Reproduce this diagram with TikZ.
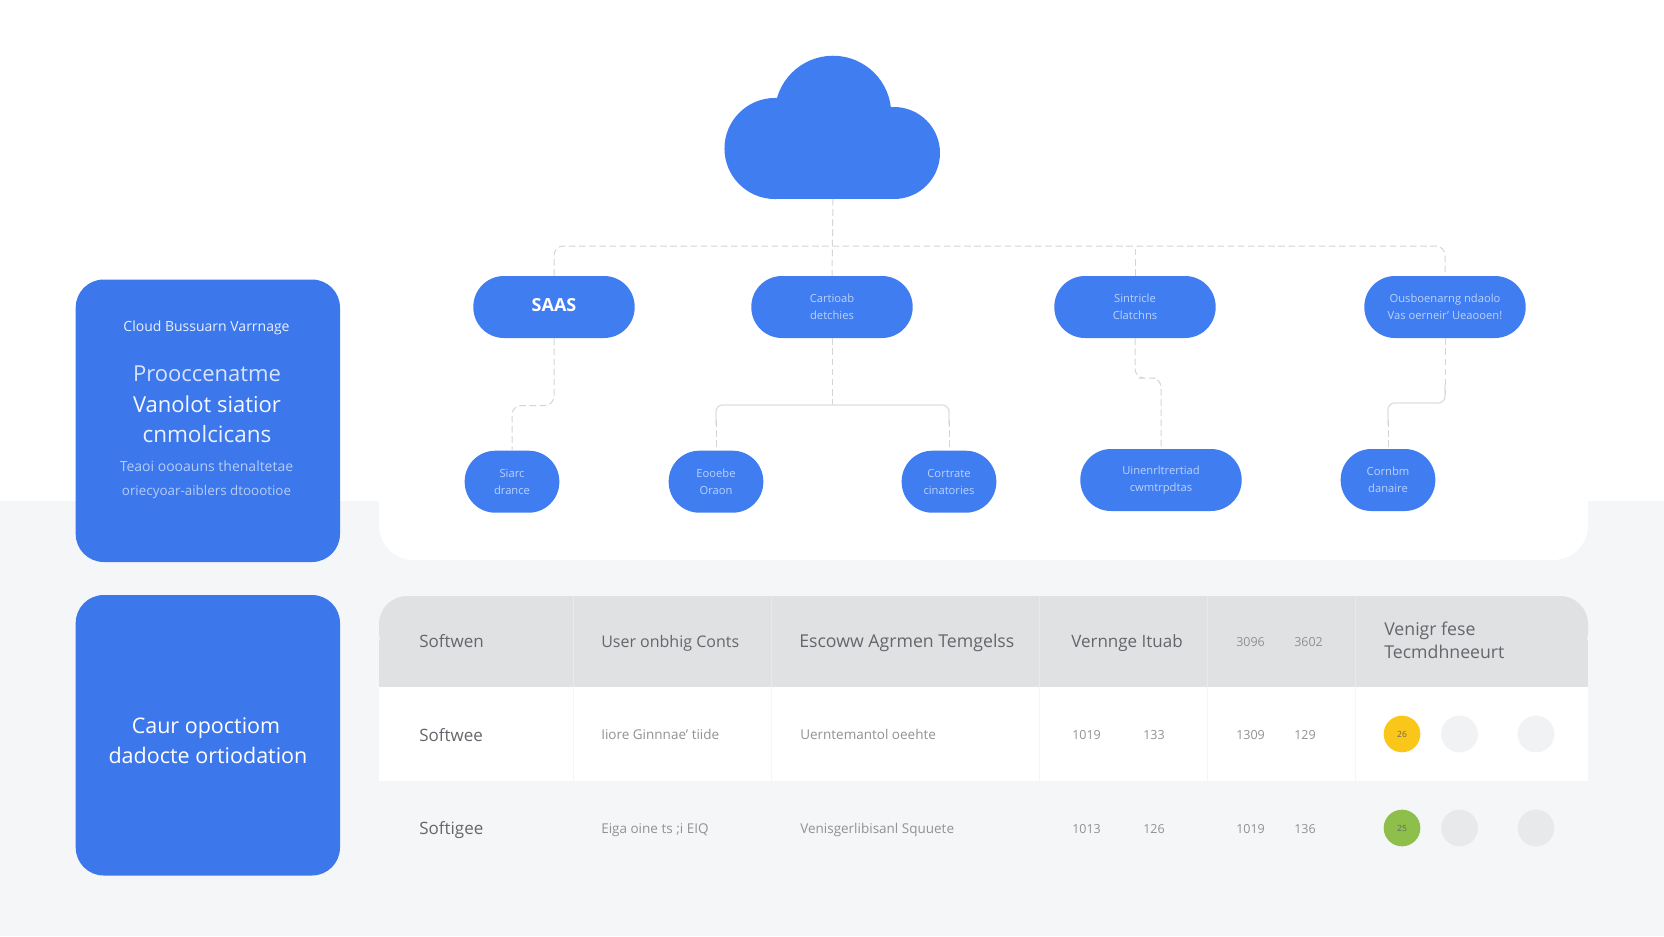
\documentclass[tikz,border=0pt]{standalone}
\usepackage{fontspec}
\setmainfont{Open Sans}
\definecolor{bluecard}{HTML}{3C78EC}
\definecolor{bluenode}{HTML}{3F7DF1}
\definecolor{pagebg}{HTML}{F5F6F8}
\definecolor{headbg}{HTML}{E0E1E3}
\definecolor{rowtwo}{HTML}{F5F6F7}
\definecolor{linkc}{HTML}{D3D5D7}
\definecolor{barc}{HTML}{DEDFE1}
\definecolor{inktxt}{HTML}{63676B}
\definecolor{softtxt}{HTML}{8F9296}
\definecolor{paletxt}{HTML}{BCD2F9}
\definecolor{dotyellow}{HTML}{FBC61A}
\definecolor{dotgreen}{HTML}{8EBF4B}
\definecolor{dotlight}{HTML}{F1F2F3}
\definecolor{dotdark}{HTML}{E8E9EA}
\newcommand{\pxfont}[2]{\fontsize{\dimexpr#1pt*3/4\relax}{\dimexpr#2pt*3/4\relax}\selectfont}
\tikzset{
  x=0.75pt,y=-0.75pt,
  card/.style={fill=bluecard,rounded corners=21pt},
  pill/.style={draw=none,fill=bluenode,rounded corners=23pt,minimum height=46.5pt,inner sep=0pt,text=paletxt,align=center,font=\pxfont{11.2}{17}},
  wide/.style={pill,minimum width=121pt},
  narrow/.style={pill,minimum width=71pt},
  dlink/.style={draw=linkc,line width=0.75pt,dash pattern=on 5pt off 2.6pt,rounded corners=7pt},
  slink/.style={draw=barc,line width=1pt,rounded corners=5pt},
  cardtxt/.style={inner sep=0pt,text=white,align=center},
  headtxt/.style={inner sep=0pt,anchor=base west,text=inktxt,font=\pxfont{17}{23},align=left},
  celltxt/.style={inner sep=0pt,anchor=base west,text=softtxt,font=\pxfont{13.5}{17}},
  numtxt/.style={celltxt,font=\pxfont{12.5}{17}},
  dot/.style={circle,minimum size=27.5pt,inner sep=0pt,text=inktxt,font=\pxfont{8.5}{9}},
}
\begin{document}
\begin{tikzpicture}
\useasboundingbox (0,0) rectangle (1664,936);
% background and panel
\fill[white] (0,0) rectangle (1664,501);
\fill[pagebg] (0,501) rectangle (1664,936);
\fill[white,rounded corners=26pt] (379,440) rectangle (1588,560);
% left cards
\fill[card] (75.7,279.5) rectangle (340,562);
\fill[card] (75.7,595) rectangle (340,875.5);
\node[cardtxt,text=white!88!bluecard,font=\pxfont{14}{18}] (c1a) at (206.5,327.5) {Cloud Bussuarn Varrnage};
\node[cardtxt,text=white!80!bluecard,font=\pxfont{22}{30}] (c1b) at (207,374) {Prooccenatme};
\node[cardtxt,text=white!95!bluecard,font=\pxfont{22}{30}] (c1c) at (207,404) {Vanolot siatior};
\node[cardtxt,text=white!90!bluecard,font=\pxfont{22.5}{30}] (c1d) at (207,434) {cnmolcicans};
\node[cardtxt,text=white!62!bluecard,font=\pxfont{14}{18}] (c1e) at (206.5,466) {Teaoi oooauns thenaltetae};
\node[cardtxt,text=white!62!bluecard,font=\pxfont{13.4}{18}] (c1f) at (206.5,492) {oriecyoar-aiblers dtoootioe};
\node[cardtxt,font=\pxfont{21.5}{30}] (c2a) at (206,728) {Caur opoctiom};
\node[cardtxt,font=\pxfont{21.5}{30}] (c2b) at (208,755) {dadocte ortiodation};
% table
\fill[rowtwo] (379,781) rectangle (1588,870);
\fill[white] (379,687) rectangle (1588,781);
\fill[headbg,rounded corners=21pt] (379,596) rectangle (1588,660);
\fill[headbg] (379,640) rectangle (1588,687);
\foreach \cx in {573,771,1039,1207,1355}{
  \draw[headbg!75!white,line width=0.5pt] (\cx,596) -- (\cx,687);
  \draw[headbg!30!white,line width=0.5pt] (\cx,687) -- (\cx,781);
}
\node[headtxt] (h1) at (419,647.5) {Softwen};
\node[headtxt,font=\pxfont{16}{23}] (h2) at (601,647.5) {User onbhig Conts};
\node[headtxt,font=\pxfont{17.7}{23}] (h3) at (799,647.5) {Escoww Agrmen Temgelss};
\node[headtxt] (h4) at (1071,647.5) {Vernnge Ituab};
\node[numtxt] (h5) at (1236,646.5) {3096};
\node[numtxt] (h6) at (1294,646.5) {3602};
\node[headtxt,anchor=base west,font=\pxfont{17.7}{23}] (h7a) at (1384,635) {Venigr fese};
\node[headtxt,anchor=base west,font=\pxfont{17.7}{23}] (h7b) at (1384,658) {Tecmdhneeurt};
\node[headtxt] (r1a) at (419,741) {Softwee};
\node[celltxt] (r1b) at (601,739.5) {Iiore Ginnnae' tiide};
\node[celltxt] (r1c) at (800,739.5) {Uerntemantol oeehte};
\node[numtxt] (r1d) at (1072,739) {1019};
\node[numtxt] (r1e) at (1143,739) {133};
\node[numtxt] (r1f) at (1236,739) {1309};
\node[numtxt] (r1g) at (1294,739) {129};
\node[headtxt] (r2a) at (419,834.5) {Softigee};
\node[celltxt] (r2b) at (601,833.5) {Eiga oine ts ;i EIQ};
\node[celltxt] (r2c) at (800,833.5) {Venisgerlibisanl Squuete};
\node[numtxt] (r2d) at (1072,833) {1013};
\node[numtxt] (r2e) at (1143,833) {126};
\node[numtxt] (r2f) at (1236,833) {1019};
\node[numtxt] (r2g) at (1294,833) {136};
\node[dot,fill=dotyellow] (d1) at (1402,734) {26};
\node[dot,fill=dotgreen] (d2) at (1402,828) {25};
\node[dot,fill=dotlight] (d3) at (1459.5,734) {};
\node[dot,fill=dotlight] (d4) at (1536,734) {};
\node[dot,fill=dotdark] (d5) at (1459.5,828) {};
\node[dot,fill=dotdark] (d6) at (1536,828) {};
% cloud
\fill[bluenode] (775,148.5) circle[radius=37.9pt];
\fill[bluenode] (894,153) circle[radius=34.5pt];
\fill[bluenode] (833,114) circle[radius=43.7pt];
\fill[bluenode] (775,120) rectangle (894,199);
\coordinate (cloudb) at (833,199);
% nodes
\node[wide] (saas) at (554,307) {};
\node[cardtxt,font=\bfseries\pxfont{18}{18}] (saastxt) at (554,305) {SAAS};
\node[wide] (cont) at (832,307) {Cartioab\\detchies};
\node[wide] (sint) at (1135,307) {Sintricle\\Clatchns};
\node[wide] (ousb) at (1445,307) {Ousboenarng ndaolo\\Vas oerneir' Ueaooen!};
\node[narrow] (siar) at (512,481.7) {Siarc\\drance};
\node[narrow] (eooe) at (716,481.7) {Eooebe\\Oraon};
\node[narrow] (cort) at (949,481.7) {Cortrate\\cinatories};
\node[wide] (uine) at (1161,480) {Uinenrltrertiad\\cwmtrpdtas};
\node[narrow] (corn) at (1388,480) {Cornbm\\danaire};
% connectors
\coordinate (bus) at (832,246);
\draw[dlink] (cloudb) -- (cont.north);
\draw[dlink] (saas.north) |- (bus) -| (ousb.north);
\draw[dlink] (sint.north) -- (sint.north |- bus);
\draw[dlink] (saas.south) |- (533,405.5) -| (siar.north);
\draw[dlink] (cont.south) -- (cont.south |- 0,405);
\draw[slink] (eooe.north |- 0,425) |- (832,405) -| (cort.north |- 0,425);
\draw[dlink] (eooe.north |- 0,420) -- (eooe.north);
\draw[dlink] (cort.north |- 0,420) -- (cort.north);
\draw[dlink] (sint.south) |- (1148,378) -| (uine.north);
\draw[dlink] (ousb.south) -- (ousb.south |- 0,395);
\draw[slink] (ousb.south |- 0,385) |- (1416,403) -| (corn.north |- 0,425);
\draw[dlink] (corn.north |- 0,420) -- (corn.north);
\end{tikzpicture}
\end{document}
